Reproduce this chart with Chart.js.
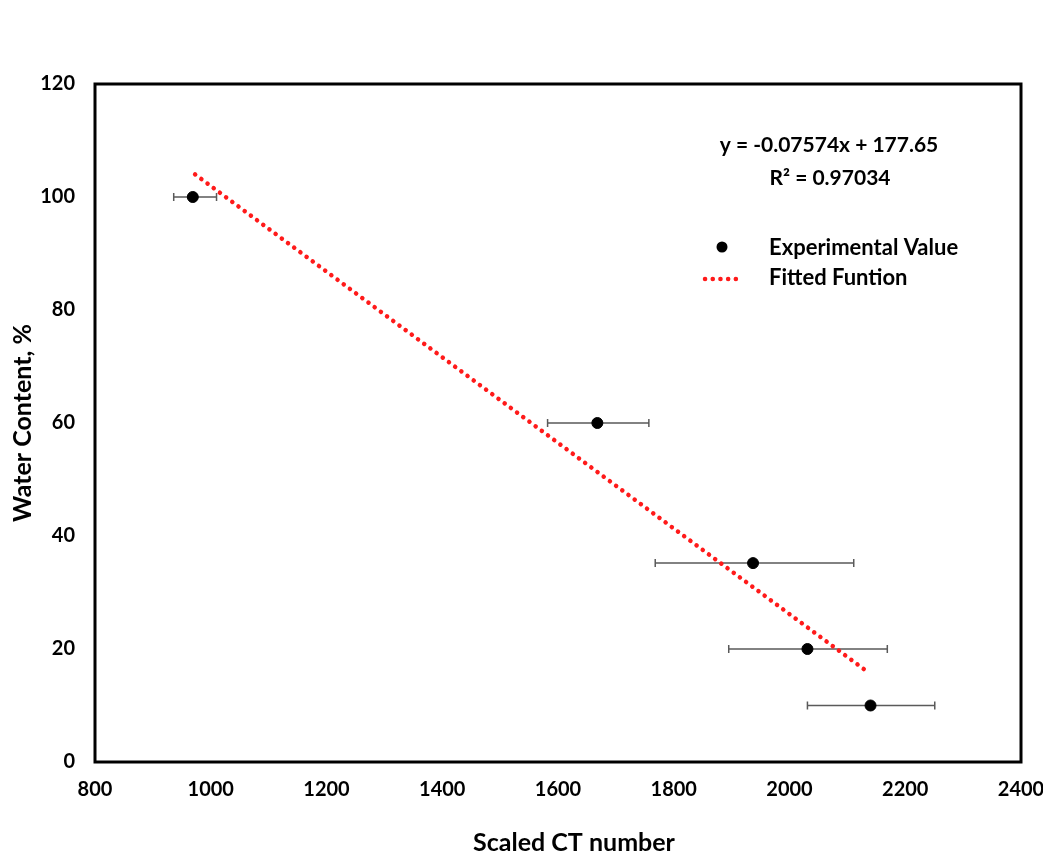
<!DOCTYPE html>
<html>
<head>
<meta charset="utf-8">
<script src="https://cdn.jsdelivr.net/npm/chart.js@4"></script>
<style>
  html, body { margin: 0; padding: 0; background: #fff; }
  #wrap { width: 1043px; height: 858px; }
</style>
</head>
<body>
<div id="wrap"><canvas id="ctChart" width="1043" height="858"></canvas></div>
<script>
// measured values
var ctNumber = [969, 1668, 1937, 2031, 2140];
var waterContent = [100, 60, 35.2, 20, 10];
var ctLow = [936, 1582, 1768, 1895, 2031];
var ctHigh = [1010, 1757, 2111, 2169, 2251];

// fitted line end points
var fitX = [973, 2133];
var fitY = [104.0, 16.1];

var xTicks = [800, 1000, 1200, 1400, 1600, 1800, 2000, 2200, 2400];
var yTicks = [0, 20, 40, 60, 80, 100, 120];

var xTitle = 'Scaled CT number';
var yTitle = 'Water Content, %';
var equationText = 'y = -0.07574x + 177.65';
var r2Text = 'R² = 0.97034';

var FONT = 'Lato, "Open Sans", sans-serif';

var extrasPlugin = {
    id: 'extras',
    beforeDatasetsDraw: function(chart) {
        var ctx = chart.ctx;
        var xs = chart.scales.x, ys = chart.scales.y;
        ctx.save();
        ctx.strokeStyle = '#5a5a5a';
        ctx.lineWidth = 1.5;
        for (var i = 0; i < ctNumber.length; i++) {
            var y = ys.getPixelForValue(waterContent[i]);
            var x1 = xs.getPixelForValue(ctLow[i]);
            var x2 = xs.getPixelForValue(ctHigh[i]);
            ctx.beginPath();
            ctx.moveTo(x1, y); ctx.lineTo(x2, y);
            ctx.moveTo(x1, y - 4); ctx.lineTo(x1, y + 4);
            ctx.moveTo(x2, y - 4); ctx.lineTo(x2, y + 4);
            ctx.stroke();
        }
        ctx.restore();
    },
    afterDraw: function(chart) {
        var ctx = chart.ctx;
        var a = chart.chartArea;
        ctx.save();
        ctx.strokeStyle = '#000';
        ctx.lineWidth = 3;
        ctx.strokeRect(a.left, a.top, a.right - a.left, a.bottom - a.top);

        ctx.fillStyle = '#000';
        ctx.textBaseline = 'middle';

        // x axis title (sits a little right of the axis centre in the original)
        ctx.font = 'bold 25px ' + FONT;
        ctx.textAlign = 'center';
        ctx.fillText(xTitle, 574, 843);

        ctx.font = 'bold 21px ' + FONT;
        ctx.fillText(equationText, 829, 145);
        ctx.fillText(r2Text, 830, 178);

        ctx.font = 'bold 22px ' + FONT;
        ctx.textAlign = 'left';
        ctx.fillText('Experimental Value', 769, 248);
        ctx.fillText('Fitted Funtion', 769, 278);

        ctx.beginPath();
        ctx.arc(722, 247, 5.5, 0, Math.PI * 2);
        ctx.fill();

        ctx.strokeStyle = '#ff1a1a';
        ctx.lineWidth = 4.5;
        ctx.lineCap = 'round';
        ctx.setLineDash([0.1, 7.6]);
        ctx.beginPath();
        ctx.moveTo(705, 279);
        ctx.lineTo(743, 279);
        ctx.stroke();
        ctx.restore();
    }
};

var ctx = document.getElementById('ctChart').getContext('2d');
new Chart(ctx, {
    type: 'scatter',
    data: {
        datasets: [{
            label: 'Experimental Value',
            data: ctNumber.map(function(v, i) { return { x: v, y: waterContent[i] }; }),
            backgroundColor: '#000',
            borderColor: '#000',
            pointRadius: 5.5,
            order: 1
        }, {
            type: 'line',
            label: 'Fitted Funtion',
            data: fitX.map(function(v, i) { return { x: v, y: fitY[i] }; }),
            borderColor: '#ff1a1a',
            borderWidth: 4.5,
            borderDash: [0.1, 7.6],
            borderCapStyle: 'round',
            pointRadius: 0,
            fill: false,
            order: 2
        }]
    },
    options: {
        responsive: false,
        animation: false,
        layout: { padding: { top: 84, right: 22, left: 0, bottom: 0 } },
        plugins: {
            legend: { display: false },
            tooltip: { enabled: false }
        },
        scales: {
            x: {
                type: 'linear',
                min: 800,
                max: 2400,
                afterBuildTicks: function(scale) {
                    scale.ticks = xTicks.map(function(v) { return { value: v }; });
                },
                afterFit: function(scale) {
                    scale.height = 96;
                    scale.paddingLeft = 0;
                    scale.paddingRight = 0;
                },
                grid: { display: false, drawTicks: false },
                border: { display: false },
                ticks: {
                    padding: 16,
                    color: '#000',
                    callback: function(v) { return String(v); },
                    font: { family: FONT, size: 20, weight: 'bold' }
                },
                title: { display: false }
            },
            y: {
                type: 'linear',
                min: 0,
                max: 120,
                afterBuildTicks: function(scale) {
                    scale.ticks = yTicks.map(function(v) { return { value: v }; });
                },
                afterFit: function(scale) {
                    scale.width = 95;
                    scale.paddingTop = 0;
                    scale.paddingBottom = 0;
                },
                grid: { display: false, drawTicks: false },
                border: { display: false },
                ticks: {
                    padding: 20,
                    color: '#000',
                    callback: function(v) { return String(v); },
                    font: { family: FONT, size: 20, weight: 'bold' }
                },
                title: {
                    display: true,
                    text: yTitle,
                    color: '#000',
                    padding: { top: 8, bottom: 0 },
                    font: { family: FONT, size: 25, weight: 'bold' }
                }
            }
        }
    },
    plugins: [extrasPlugin]
});
</script>
</body>
</html>
